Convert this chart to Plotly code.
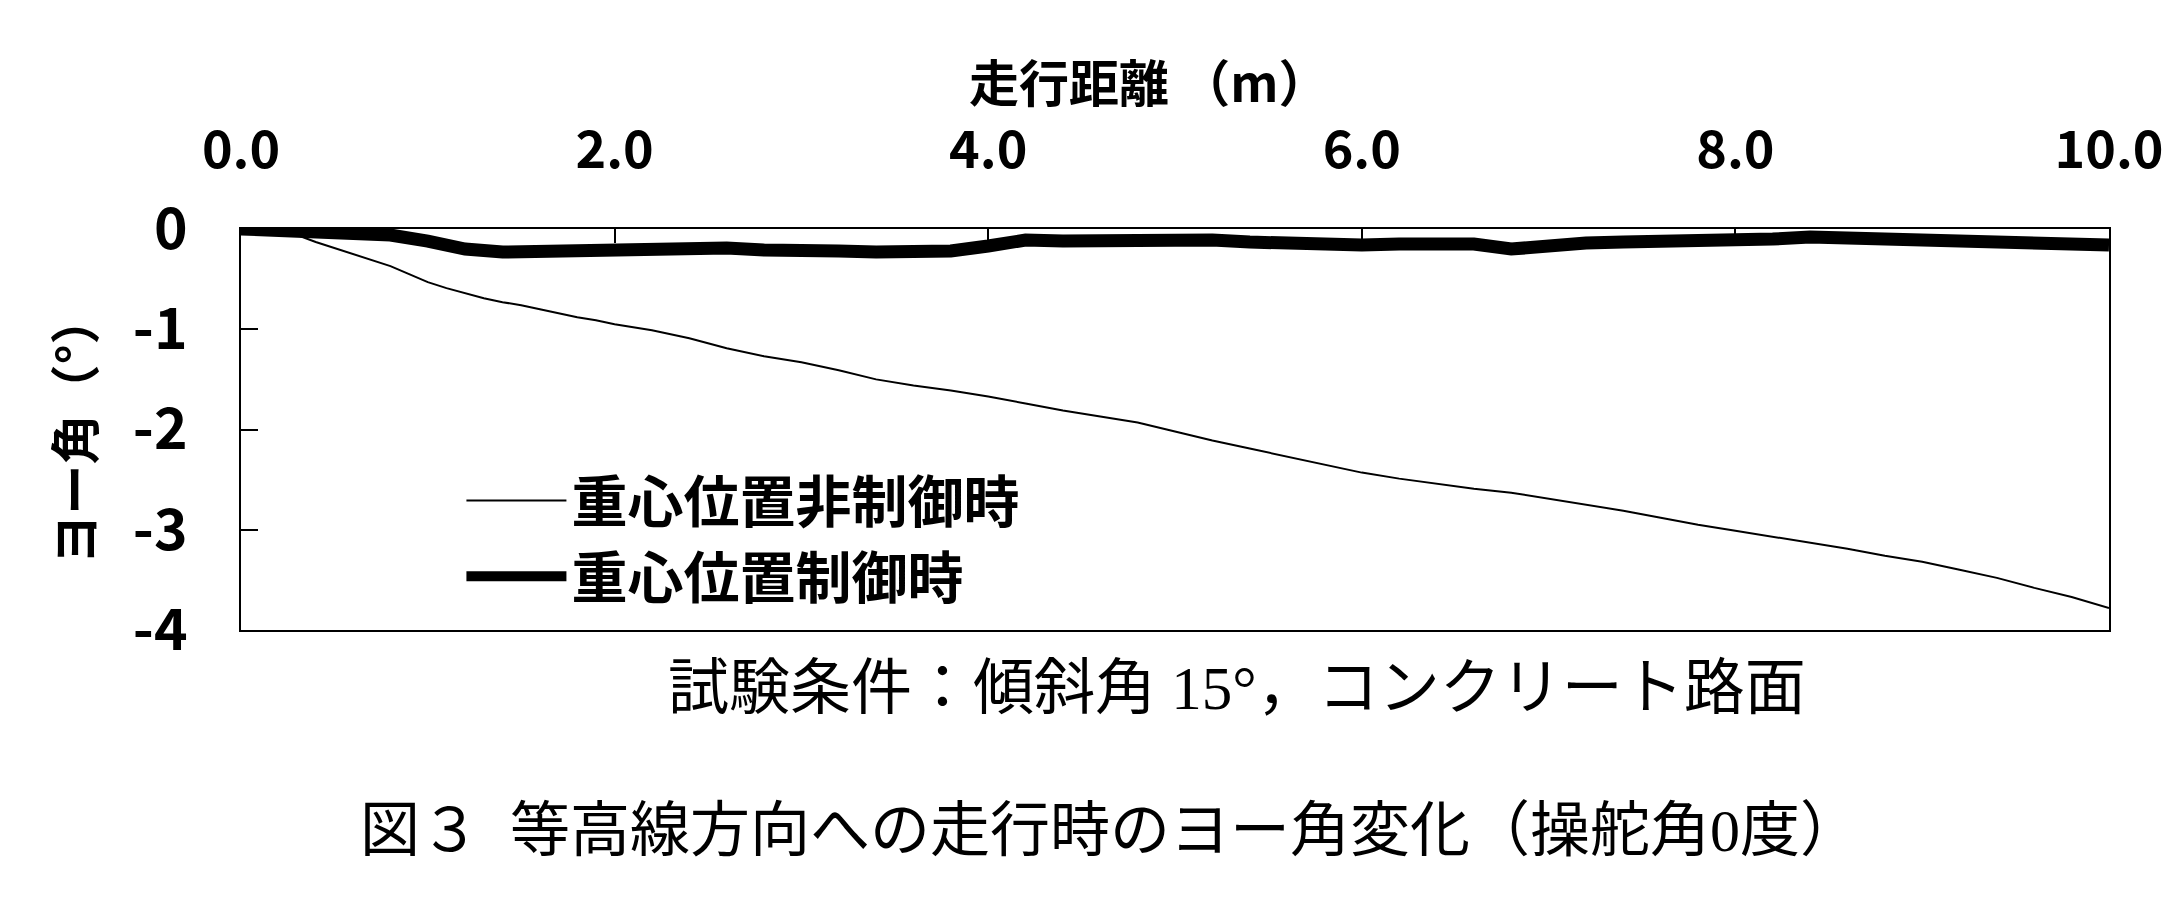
import plotly.graph_objects as go

# distance travelled (m) and yaw angle (deg)
dist_free = [0.0, 0.1, 0.2, 0.3, 0.4, 0.5, 0.6, 0.7, 0.8, 0.9, 1.0, 1.1, 1.2, 1.3,
             1.4, 1.5, 1.6, 1.7, 1.8, 1.9, 2.0, 2.2, 2.4, 2.6, 2.8, 3.0, 3.2, 3.4,
             3.6, 3.8, 4.0, 4.2, 4.4, 4.6, 4.8, 5.0, 5.2, 5.4, 5.6, 5.8, 6.0, 6.2,
             6.4, 6.6, 6.8, 7.0, 7.2, 7.4, 7.6, 7.8, 8.0, 8.2, 8.4, 8.6, 8.8, 9.0,
             9.2, 9.4, 9.6, 9.8, 10.0]
yaw_free = [0.00, 0.00, -0.03, -0.06, -0.13, -0.19, -0.25, -0.31, -0.37, -0.45,
            -0.53, -0.59, -0.64, -0.69, -0.73, -0.76, -0.80, -0.84, -0.88, -0.91,
            -0.95, -1.01, -1.09, -1.19, -1.27, -1.33, -1.41, -1.50, -1.56, -1.61,
            -1.67, -1.74, -1.81, -1.87, -1.93, -2.02, -2.11, -2.19, -2.27, -2.35,
            -2.43, -2.49, -2.54, -2.59, -2.63, -2.69, -2.75, -2.81, -2.88, -2.95,
            -3.01, -3.07, -3.13, -3.19, -3.26, -3.32, -3.40, -3.48, -3.58, -3.67,
            -3.78]

dist_ctrl = [0.0, 0.2, 0.4, 0.6, 0.8, 1.0, 1.1, 1.2, 1.4, 1.6, 1.8, 2.0, 2.2, 2.4,
             2.6, 2.8, 3.0, 3.2, 3.4, 3.6, 3.8, 4.0, 4.2, 4.4, 4.6, 4.8, 5.0, 5.2,
             5.4, 5.6, 5.8, 6.0, 6.2, 6.4, 6.6, 6.8, 7.0, 7.2, 7.4, 7.6, 7.8, 8.0,
             8.2, 8.4, 8.6, 8.8, 9.0, 9.2, 9.4, 9.6, 9.8, 10.0]
yaw_ctrl = [0.00, -0.01, -0.02, -0.03, -0.06, -0.12, -0.17, -0.20, -0.23, -0.22,
            -0.23, -0.21, -0.20, -0.21, -0.19, -0.21, -0.20, -0.22, -0.23, -0.24,
            -0.22, -0.17, -0.11, -0.12, -0.11, -0.12, -0.12, -0.11, -0.13, -0.15,
            -0.16, -0.16, -0.15, -0.14, -0.15, -0.20, -0.16, -0.14, -0.13, -0.13,
            -0.12, -0.12, -0.10, -0.08, -0.09, -0.08, -0.09, -0.10, -0.12, -0.12,
            -0.13, -0.16]

x_ticks = [0, 2, 4, 6, 8, 10]
y_ticks = [0, -1, -2, -3, -4]
y_tick_text = ["0", "-1", "-2", "-3", "-4"]

gothic = "Noto Sans CJK JP"
mincho = "Liberation Serif, Noto Sans CJK JP"

fig = go.Figure()
fig.add_trace(go.Scatter(x=dist_free, y=yaw_free, mode="lines",
                         name="重心位置非制御時",
                         line=dict(color="black", width=2)))
fig.add_trace(go.Scatter(x=dist_ctrl, y=yaw_ctrl, mode="lines",
                         name="重心位置制御時",
                         line=dict(color="black", width=13)))

fig.update_layout(
    width=2177, height=917,
    margin=dict(l=233, r=76, t=221, b=295),
    paper_bgcolor="white", plot_bgcolor="white",
    font=dict(family=gothic, color="black"),
    legend=dict(x=0.118, y=0.43, xanchor="left", yanchor="top",
                bgcolor="rgba(0,0,0,0)", itemwidth=100,
                font=dict(size=56, family=gothic, weight="bold"),
                tracegroupgap=0),
    xaxis=dict(range=[0, 10], side="top", tickvals=x_ticks, tickformat=".1f",
               ticks="inside", ticklen=14, tickwidth=2, tickcolor="black",
               showline=True, linewidth=2, linecolor="black", mirror=True,
               showgrid=False, zeroline=False, ticklabelstandoff=38,
               tickfont=dict(size=52, family=gothic, weight="bold")),
    yaxis=dict(range=[-4, 0], tickvals=y_ticks, ticktext=y_tick_text,
               ticks="inside", ticklen=17, tickwidth=2, tickcolor="black",
               showline=True, linewidth=2, linecolor="black", mirror=True,
               showgrid=False, zeroline=False, ticklabelstandoff=40,
               tickfont=dict(size=57, family=gothic, weight="bold"),
               title=dict(text="ヨー角（°）", standoff=22,
                          font=dict(size=50, family=gothic, weight="bold"))),
)

# x-axis title sits close above the top tick labels
fig.add_annotation(text="走行距離 （m）", xref="paper", yref="paper",
                   x=0.486, y=1.372, yanchor="middle", showarrow=False,
                   font=dict(size=50, family=gothic, weight="bold"))
fig.add_annotation(text="試験条件：傾斜角 15°，コンクリート路面",
                   xref="paper", yref="paper", x=0.533, y=-0.235,
                   showarrow=False, font=dict(size=61, family=mincho))
fig.add_annotation(text="図３  等高線方向への走行時のヨー角変化（操舵角0度）",
                   xref="paper", yref="paper", x=0.465, y=-0.589,
                   showarrow=False, font=dict(size=60, family=mincho))

fig.write_html("out.html")
